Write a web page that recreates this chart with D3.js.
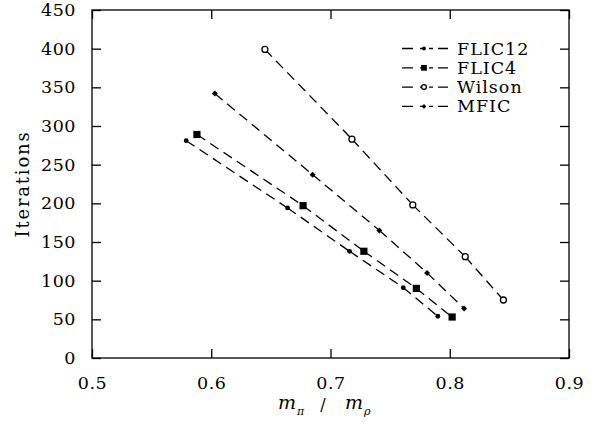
<!DOCTYPE html>
<html>
<head>
<meta charset="utf-8">
<script src="https://cdn.jsdelivr.net/npm/d3@7"></script>
<style>
body { margin: 0; background: #fff; }
text { font-family: "DejaVu Serif", serif; fill: #000; }
</style>
</head>
<body>
<svg id="chart" width="614" height="422"></svg>
<script>
// series data
var seriesNames = ["FLIC12", "FLIC4", "Wilson", "MFIC"];
var flic12X = [0.579, 0.664, 0.716, 0.761, 0.790];
var flic12Y = [281, 194, 138, 91, 54];
var flic4X = [0.588, 0.677, 0.728, 0.772, 0.802];
var flic4Y = [289, 197, 138, 90, 53];
var wilsonX = [0.645, 0.718, 0.769, 0.813, 0.845];
var wilsonY = [399, 283, 198, 131, 75];
var mficX = [0.603, 0.685, 0.741, 0.781, 0.812];
var mficY = [342, 237, 165, 110, 64];
var xTicks = [0.5, 0.6, 0.7, 0.8, 0.9];
var yTicks = [0, 50, 100, 150, 200, 250, 300, 350, 400, 450];

var plotLeft = 92, plotRight = 569, plotTop = 10, plotBottom = 358;
var svg = d3.select("#chart");

var x = d3.scaleLinear().domain([0.5, 0.9]).range([plotLeft, plotRight]);
var y = d3.scaleLinear().domain([0, 450]).range([plotBottom, plotTop]);

// frame
svg.append("rect")
	.attr("x", plotLeft).attr("y", plotTop)
	.attr("width", plotRight - plotLeft).attr("height", plotBottom - plotTop)
	.attr("fill", "none").attr("stroke", "#000").attr("stroke-width", 1.3);

// axes with inward ticks, gnuplot style
var fmtX = d3.format(".1f");
svg.append("g").attr("transform", "translate(0," + plotBottom + ")")
	.call(d3.axisBottom(x).tickValues(xTicks).tickFormat(fmtX).tickSizeInner(-9).tickSizeOuter(0).tickPadding(19))
	.call(function(g) { g.select(".domain").remove(); });
svg.append("g").attr("transform", "translate(0," + plotTop + ")")
	.call(d3.axisTop(x).tickValues(xTicks).tickFormat("").tickSizeInner(-9).tickSizeOuter(0))
	.call(function(g) { g.select(".domain").remove(); });
svg.append("g").attr("transform", "translate(" + plotLeft + ",0)")
	.call(d3.axisLeft(y).tickValues(yTicks).tickSizeInner(-9).tickSizeOuter(0).tickPadding(16))
	.call(function(g) { g.select(".domain").remove(); });
svg.append("g").attr("transform", "translate(" + plotRight + ",0)")
	.call(d3.axisRight(y).tickValues(yTicks).tickFormat("").tickSizeInner(-9).tickSizeOuter(0))
	.call(function(g) { g.select(".domain").remove(); });

svg.selectAll(".tick line").attr("stroke", "#000").attr("stroke-width", 1.3);
svg.selectAll(".tick text").style("font-family", "DejaVu Serif").style("font-size", "17.5px")
	.style("letter-spacing", "0.5px").attr("fill", "#000");

// axis titles
svg.append("text")
	.attr("transform", "translate(29," + ((plotTop + plotBottom) / 2) + ") rotate(-90)")
	.attr("text-anchor", "middle")
	.style("font-size", "18px")
	.style("letter-spacing", "1.8px")
	.text("Iterations");

var xl = svg.append("g").style("font-size", "19px");
xl.append("text").attr("x", 278).attr("y", 409).style("font-style", "italic").text("m");
xl.append("text").attr("x", 297).attr("y", 415).style("font-size", "11px").style("font-style", "italic").text("π");
xl.append("text").attr("x", 323).attr("y", 410).attr("text-anchor", "middle").style("font-size", "16px").text("/");
xl.append("text").attr("x", 345).attr("y", 409).style("font-style", "italic").text("m");
xl.append("text").attr("x", 364).attr("y", 415).style("font-size", "11px").style("font-style", "italic").text("ρ");

// series
var series = [
	{ name: seriesNames[0], xs: flic12X, ys: flic12Y, mark: "dot" },
	{ name: seriesNames[1], xs: flic4X, ys: flic4Y, mark: "square" },
	{ name: seriesNames[2], xs: wilsonX, ys: wilsonY, mark: "open" },
	{ name: seriesNames[3], xs: mficX, ys: mficY, mark: "diamond" }
];

function drawMark(g, kind, cx, cy, small) {
	var s = small ? 0.8 : 1;
	if (kind == "dot") {
		g.append("circle").attr("cx", cx).attr("cy", cy).attr("r", 2.4 * s).attr("fill", "#000");
	} else if (kind == "square") {
		var h = 3.6 * s;
		g.append("rect").attr("x", cx - h).attr("y", cy - h).attr("width", 2 * h).attr("height", 2 * h).attr("fill", "#000");
	} else if (kind == "open") {
		g.append("circle").attr("cx", cx).attr("cy", cy).attr("r", 3 * s).attr("fill", "#fff").attr("stroke", "#000").attr("stroke-width", 1.3);
	} else {
		var d = 3 * s;
		g.append("path").attr("d", "M" + cx + "," + (cy - d) + "L" + (cx + d) + "," + cy + "L" + cx + "," + (cy + d) + "L" + (cx - d) + "," + cy + "Z").attr("fill", "#000");
	}
}

series.forEach(function(s) {
	var g = svg.append("g");
	var pts = s.xs.map(function(v, i) { return [x(v), y(s.ys[i])]; });
	// each segment restarts the dash pattern at its point
	for (var i = 0; i < pts.length - 1; i++) {
		g.append("path")
			.attr("d", d3.line()([pts[i], pts[i + 1]]))
			.attr("fill", "none")
			.attr("stroke", "#000")
			.attr("stroke-width", 1.3)
			.attr("stroke-dasharray", "10,6");
	}
	pts.forEach(function(p) { drawMark(g, s.mark, p[0], p[1], false); });
});

// legend
series.forEach(function(s, i) {
	var ly = 48.5 + i * 19.3;
	var g = svg.append("g");
	g.append("line").attr("x1", 402).attr("x2", 448).attr("y1", ly).attr("y2", ly)
		.attr("stroke", "#000").attr("stroke-width", 1.3).attr("stroke-dasharray", "11,7,4,5,4,5");
	drawMark(g, s.mark, 424, ly, true);
	g.append("text").attr("x", 457).attr("y", ly + 6).style("font-size", "17.5px")
		.style("letter-spacing", "1px").text(s.name);
});
</script>
</body>
</html>
